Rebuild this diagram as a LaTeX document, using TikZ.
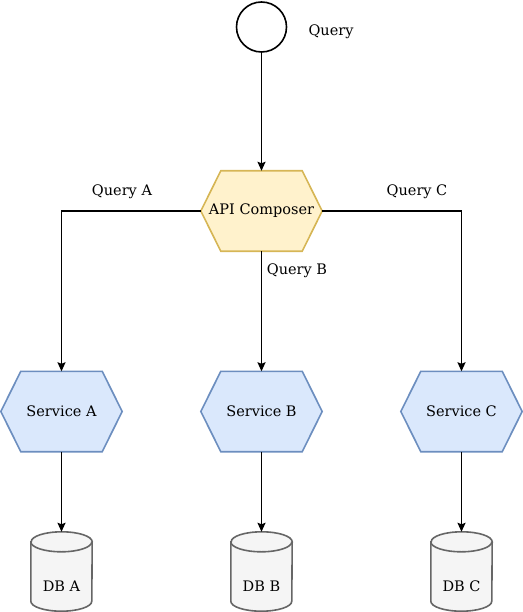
\documentclass[tikz,border=0pt]{standalone}
\usepackage{fontspec}
\setmainfont{DejaVu Serif}
\usetikzlibrary{arrows.meta,backgrounds}
\definecolor{yfill}{HTML}{FFF2CC}
\definecolor{ydraw}{HTML}{D6B656}
\definecolor{bfill}{HTML}{DAE8FC}
\definecolor{bdraw}{HTML}{6C8EBF}
\definecolor{dfill}{HTML}{F5F5F5}
\definecolor{ddraw}{HTML}{666666}
\tikzset{
  box/.style={inner sep=0pt, minimum width=121pt, minimum height=80pt, font=\fontsize{14.5}{17}\selectfont},
  dbbox/.style={inner sep=0pt, minimum width=61pt, minimum height=79pt},
  lbl/.style={inner sep=0pt, font=\fontsize{14.5}{17}\selectfont},
  ystyle/.style={fill=yfill, draw=ydraw, line width=1.6pt, line join=miter},
  bstyle/.style={fill=bfill, draw=bdraw, line width=1.6pt, line join=miter},
  dstyle/.style={fill=dfill, draw=ddraw, line width=1.6pt},
  arr/.style={draw=black, line width=1.6pt, -{Stealth[length=9pt,width=8pt,inset=1.5pt]}},
}
\newcommand\hexshape[2]{%
  \begin{scope}[on background layer]
    \draw[#2] (#1.west) -- ([xshift=20pt]#1.north west) -- ([xshift=-20pt]#1.north east)
      -- (#1.east) -- ([xshift=-20pt]#1.south east) -- ([xshift=20pt]#1.south west) -- cycle;
  \end{scope}}
\newcommand\dbshape[1]{%
  \begin{scope}[on background layer]
    \path[dstyle] ([yshift=-10pt]#1.north west) -- ([yshift=10pt]#1.south west)
      arc[start angle=180,end angle=360,x radius=30.5pt,y radius=10pt]
      -- ([yshift=-10pt]#1.north east)
      arc[start angle=0,end angle=180,x radius=30.5pt,y radius=10pt] -- cycle;
    \draw[ddraw, line width=1.6pt] ([yshift=-10pt]#1.north west)
      arc[start angle=180,end angle=360,x radius=30.5pt,y radius=10pt];
  \end{scope}}
\begin{document}
\begin{tikzpicture}[x=1pt,y=-1pt]
  \useasboundingbox (0,0) rectangle (522,612);
  % query start
  \node[circle, draw=black, line width=1.6pt, fill=white, minimum size=50pt, inner sep=0pt] (q) at (261.5,27) {};
  \node[lbl] (ql) at (331,32) {Query};
  % composer
  \node[box] (api) at (261.5,211) {API Composer};
  \hexshape{api}{ystyle}
  % services
  \node[box] (sa) at (61.5,411.5) {Service A};
  \node[box] (sb) at (261.5,411.5) {Service B};
  \node[box] (sc) at (461.5,411.5) {Service C};
  \hexshape{sa}{bstyle}
  \hexshape{sb}{bstyle}
  \hexshape{sc}{bstyle}
  % databases
  \node[dbbox] (da) at (61.5,571.5) {};
  \node[dbbox] (db) at (261.5,571.5) {};
  \node[dbbox] (dc) at (461.5,571.5) {};
  \dbshape{da}
  \dbshape{db}
  \dbshape{dc}
  \node[lbl] (dal) at (61.5,586) {DB A};
  \node[lbl] (dbl) at (261.5,586) {DB B};
  \node[lbl] (dcl) at (461.5,586) {DB C};
  % connectors
  \draw[arr] (q.south) -- (api.north);
  \draw[arr] (api.west) -| (sa.north);
  \draw[arr] (api.south) -- (sb.north);
  \draw[arr] (api.east) -| (sc.north);
  \draw[arr] (sa.south) -- (da.north);
  \draw[arr] (sb.south) -- (db.north);
  \draw[arr] (sc.south) -- (dc.north);
  % edge labels
  \node[lbl] (la) at (122,192) {Query A};
  \node[lbl] (lb) at (297,271) {Query B};
  \node[lbl] (lc) at (417,192) {Query C};
\end{tikzpicture}
\end{document}
